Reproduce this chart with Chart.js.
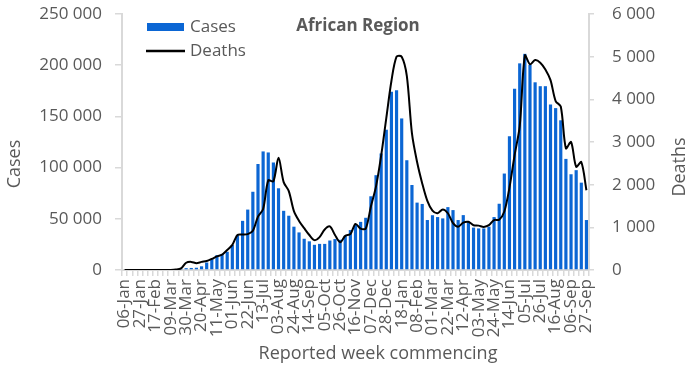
<!DOCTYPE html>
<html><head><meta charset="utf-8">
<script src="https://cdn.jsdelivr.net/npm/chart.js@4.4.1/dist/chart.umd.min.js"></script>
<style>html,body{margin:0;padding:0;background:#fff;overflow:hidden}#wrap{width:692px;height:366px}</style>
</head><body><div id="wrap"><canvas id="c" width="692" height="366"></canvas></div>
<script>
const chartTitle = 'African Region';
const xTitle = 'Reported week commencing';
const yTitle = 'Cases';
const y1Title = 'Deaths';

const weeks = [
 '06-Jan','13-Jan','20-Jan','27-Jan','03-Feb','10-Feb','17-Feb','24-Feb','02-Mar','09-Mar',
 '16-Mar','23-Mar','30-Mar','06-Apr','13-Apr','20-Apr','27-Apr','04-May','11-May','18-May',
 '25-May','01-Jun','08-Jun','15-Jun','22-Jun','29-Jun','06-Jul','13-Jul','20-Jul','27-Jul',
 '03-Aug','10-Aug','17-Aug','24-Aug','31-Aug','07-Sep','14-Sep','21-Sep','28-Sep','05-Oct',
 '12-Oct','19-Oct','26-Oct','02-Nov','09-Nov','16-Nov','23-Nov','30-Nov','07-Dec','14-Dec',
 '21-Dec','28-Dec','04-Jan','11-Jan','18-Jan','25-Jan','01-Feb','08-Feb','15-Feb','22-Feb',
 '01-Mar','08-Mar','15-Mar','22-Mar','29-Mar','05-Apr','12-Apr','19-Apr','26-Apr','03-May',
 '10-May','17-May','24-May','31-May','07-Jun','14-Jun','21-Jun','28-Jun','05-Jul','12-Jul',
 '19-Jul','26-Jul','02-Aug','09-Aug','16-Aug','23-Aug','30-Aug','06-Sep','13-Sep','20-Sep',
 '27-Sep'];

const tickLabels = ['06-Jan','27-Jan','17-Feb','09-Mar','30-Mar','20-Apr','11-May','01-Jun',
 '22-Jun','13-Jul','03-Aug','24-Aug','14-Sep','05-Oct','26-Oct','16-Nov','07-Dec','28-Dec',
 '18-Jan','08-Feb','01-Mar','22-Mar','12-Apr','03-May','24-May','14-Jun','05-Jul','26-Jul',
 '16-Aug','06-Sep','27-Sep'];

const cases = [
 0,0,0,0,0,0,0,0,20,100,
 400,1000,1800,2000,2200,3600,7300,10600,14500,15600,
 17800,24400,34000,48000,59000,76400,103500,115800,114800,105000,
 79800,57800,53000,42300,36700,30500,28000,24600,25500,25500,
 28800,30200,29500,33500,39000,44000,47000,51000,72000,92600,
 113800,137000,174000,175500,148000,107200,83000,65800,64500,48800,
 53500,51700,50400,61400,58500,48800,53600,47500,41400,40600,
 40600,42300,51700,64700,94200,130500,177100,201800,211100,200300,
 183300,179500,179500,161700,158100,146200,108500,93500,97500,85300,
 48800];

const deaths = [
 0,0,0,0,0,0,0,0,0,0,
 10,40,170,190,160,190,210,260,320,360,
 470,590,820,830,840,920,1250,1430,2100,2080,
 2630,2060,1850,1380,1150,980,820,700,770,950,
 1020,820,650,800,840,1080,970,970,1490,1960,
 2680,3560,4430,5000,5000,4550,3200,2530,2030,1620,
 1390,1330,1420,1330,1100,1015,1110,1130,1050,1040,
 1010,1050,1170,1180,1370,1930,2690,3370,5030,4820,
 4920,4860,4700,4450,3960,3830,2850,3000,2420,2530,
 1870];

const FONT = '"Open Sans", sans-serif';
const GREY = '#595959';
const AXIS = '#d9d9d9';
const BLUE = '#0B66D4';

function fmt(v){ return String(v).replace(/\B(?=(\d{3})+(?!\d))/g, ' '); }

const deco = {
  id: 'deco',
  afterDraw(chart) {
    const ctx = chart.ctx;
    ctx.save();
    ctx.fillStyle = GREY;
    ctx.textBaseline = 'middle';
    ctx.font = 'bold 17px ' + FONT;
    ctx.textAlign = 'center';
    ctx.fillText(chartTitle, 358, 26);
    ctx.font = '18px ' + FONT;
    ctx.fillText(xTitle, 378, 354);
    ctx.save(); ctx.translate(15, 164); ctx.rotate(-Math.PI/2);
    ctx.fillText(yTitle, 0, 0); ctx.restore();
    ctx.save(); ctx.translate(680, 167); ctx.rotate(-Math.PI/2);
    ctx.fillText(y1Title, 0, 0); ctx.restore();
    const ds = chart.data.datasets;
    ctx.font = '17px ' + FONT;
    ctx.textAlign = 'left';
    ctx.fillStyle = ds[0].backgroundColor;
    ctx.fillRect(147, 23, 37, 8);
    ctx.fillStyle = GREY;
    ctx.fillText(ds[0].label, 190, 27);
    ctx.strokeStyle = ds[1].borderColor;
    ctx.lineWidth = 2.5;
    ctx.beginPath(); ctx.moveTo(146, 51); ctx.lineTo(185, 51); ctx.stroke();
    ctx.fillText(ds[1].label, 190, 51);
    ctx.restore();
  }
};

new Chart(document.getElementById('c'), {
  type: 'bar',
  data: {
    labels: weeks,
    datasets: [
      { type: 'bar', label: 'Cases', data: cases, backgroundColor: BLUE, yAxisID: 'y',
        barPercentage: 0.62, categoryPercentage: 1.0, order: 2 },
      { type: 'line', label: 'Deaths', data: deaths, borderColor: '#000000', borderWidth: 2,
        pointRadius: 0, tension: 0.3, yAxisID: 'y1', order: 1, fill: false }
    ]
  },
  options: {
    responsive: false,
    devicePixelRatio: 1,
    animation: false,
    layout: { padding: { top: 14, left: 0, right: 0, bottom: 0 } },
    plugins: { legend: { display: false }, title: { display: false }, tooltip: { enabled: false } },
    scales: {
      x: {
        offset: true,
        grid: { display: true, drawOnChartArea: false, drawTicks: true, tickLength: 6, color: AXIS, lineWidth: 1.5, offset: true },
        border: { display: true, color: AXIS, width: 2 },
        ticks: {
          autoSkip: false, minRotation: 90, maxRotation: 90, padding: 3, color: GREY,
          font: { family: FONT, size: 17 },
          callback(v) { const l = this.getLabelForValue(v); return tickLabels.includes(l) ? l : ''; }
        },
        afterFit(s) { s.height = 96; s.paddingLeft = 0; s.paddingRight = 0; }
      },
      y: {
        position: 'left', min: 0, max: 250000,
        grid: { drawOnChartArea: false, drawTicks: true, tickLength: 7, color: AXIS, lineWidth: 1.5 },
        border: { display: true, color: AXIS, width: 2 },
        ticks: { stepSize: 50000, padding: 13, color: GREY, font: { family: FONT, size: 17 }, callback: fmt },
        afterFit(s) { s.width = 122; s.paddingTop = 0; s.paddingBottom = 0; }
      },
      y1: {
        position: 'right', min: 0, max: 6000,
        grid: { drawOnChartArea: false, drawTicks: true, tickLength: 5, color: AXIS, lineWidth: 1.5 },
        border: { display: true, color: AXIS, width: 2 },
        ticks: { stepSize: 1000, padding: 18, color: GREY, font: { family: FONT, size: 17 }, callback: fmt },
        afterFit(s) { s.width = 103; s.paddingTop = 0; s.paddingBottom = 0; }
      }
    }
  },
  plugins: [deco]
});
</script>
</body></html>
